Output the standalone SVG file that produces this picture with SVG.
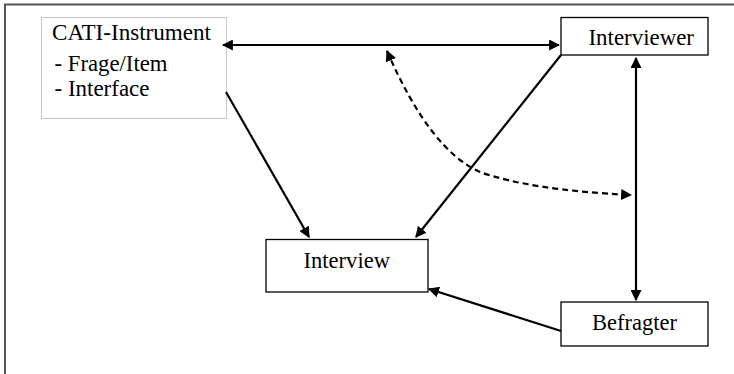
<svg xmlns="http://www.w3.org/2000/svg" width="734" height="374" viewBox="0 0 734 374">
<style>
.box{fill:#fff;stroke:#000;stroke-width:1.3}
.lt{fill:#fff;stroke:#c8c8c8;stroke-width:1}
.t{font-family:"Liberation Serif","Times New Roman",serif;font-size:22.5px;fill:#000}
.c{fill:none;stroke:#000;stroke-width:2.2}
.d{stroke-dasharray:6,4}
</style>
<defs>
<marker id="ah" viewBox="0 0 10 10" refX="9" refY="5" markerWidth="5" markerHeight="5" orient="auto-start-reverse" markerUnits="strokeWidth">
<path d="M0,0 L10,5 L0,10 z" fill="#000"/>
</marker>
</defs>
<rect width="734" height="374" fill="#fff"/>
<path d="M5,374 V4.5 H734" fill="none" stroke="#555" stroke-width="2"/>
<g id="cati">
<rect class="lt" x="41.5" y="17.5" width="185" height="101"/>
<text class="t" x="52" y="39.5" textLength="159" lengthAdjust="spacingAndGlyphs">CATI-Instrument</text>
<text class="t" x="54.5" y="71" textLength="113" lengthAdjust="spacingAndGlyphs">- Frage/Item</text>
<text class="t" x="54.5" y="96" textLength="95" lengthAdjust="spacingAndGlyphs">- Interface</text>
</g>
<g id="interviewer">
<rect class="box" x="561" y="17.5" width="147" height="37.5"/>
<text class="t" x="588.5" y="45" textLength="105.5" lengthAdjust="spacingAndGlyphs">Interviewer</text>
</g>
<g id="interview">
<rect class="box" x="266" y="239.5" width="162" height="52.5"/>
<text class="t" x="303.5" y="268" textLength="86.5" lengthAdjust="spacingAndGlyphs">Interview</text>
</g>
<g id="befragter">
<rect class="box" x="561" y="302" width="147" height="44"/>
<text class="t" x="592" y="330" textLength="85" lengthAdjust="spacingAndGlyphs">Befragter</text>
</g>
<g id="connectors">
<line class="c" x1="223" y1="45" x2="559" y2="45" marker-start="url(#ah)" marker-end="url(#ah)"/>
<line class="c" x1="636" y1="58" x2="636" y2="300" marker-start="url(#ah)" marker-end="url(#ah)"/>
<line class="c" x1="226" y1="92" x2="309" y2="237" marker-end="url(#ah)"/>
<line class="c" x1="561" y1="55" x2="416" y2="237" marker-end="url(#ah)"/>
<line class="c" x1="561" y1="331" x2="429" y2="289" marker-end="url(#ah)"/>
<path class="c d" d="M387,51 Q430,150 480,172 Q530,190 631,195" marker-start="url(#ah)" marker-end="url(#ah)"/>
</g>
</svg>
